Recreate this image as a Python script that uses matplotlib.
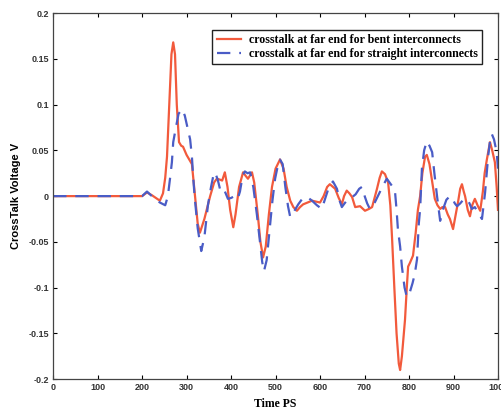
import matplotlib
matplotlib.use("Agg")
import matplotlib.pyplot as plt

# far-end crosstalk, bent interconnects
bent_t = [0, 200, 211, 222, 240, 247, 252, 256, 262, 266, 270, 274, 278, 283, 288, 292,
          300, 312, 319, 325, 330, 340, 353, 362, 368, 375, 380, 386, 392, 398, 405, 410,
          418, 427, 433, 438, 447, 452, 460, 466, 472, 478, 485, 492, 500, 510, 518, 525,
          533, 540, 548, 555, 562, 572, 582, 600, 608, 616, 622, 634, 642, 649, 654, 660,
          666, 672, 679, 690, 701, 710, 717, 722, 728, 734, 739, 746, 753, 758, 762, 767,
          772, 777, 780, 784, 791, 795, 798, 802, 809, 815, 820, 825, 830, 836, 840, 846,
          852, 858, 864, 870, 875, 881, 887, 892, 899, 905, 910, 915, 919, 923, 926, 932,
          937, 942, 948, 954, 960, 966, 970, 975, 982, 987, 993, 997, 1000]
bent_v = [0, 0, 0.004, 0.001, -0.005, 0.003, 0.02, 0.043, 0.11, 0.155, 0.168, 0.155, 0.1,
          0.059, 0.055, 0.054, 0.045, 0.035, 0.0, -0.03, -0.04, -0.025, 0.0, 0.015, 0.019,
          0.018, 0.017, 0.026, 0.01, -0.015, -0.034, -0.02, 0.01, 0.026, 0.022, 0.019, 0.026,
          0.015, -0.02, -0.05, -0.067, -0.055, -0.02, 0.01, 0.03, 0.04, 0.03, 0.01, -0.005,
          -0.012, -0.016, -0.012, -0.009, -0.007, -0.005, -0.007, 0.0, 0.01, 0.013, 0.008,
          -0.002, -0.009, 0.0, 0.006, 0.003, -0.001, -0.012, -0.011, -0.016, -0.014, -0.012,
          -0.003, 0.008, 0.02, 0.027, 0.024, 0.015, -0.01, -0.047, -0.1, -0.15, -0.183, -0.19,
          -0.175, -0.135, -0.1, -0.077, -0.073, -0.065, -0.04, -0.015, 0.0, 0.025, 0.043,
          0.045, 0.035, 0.016, -0.003, -0.01, -0.014, -0.012, -0.012, -0.02, -0.025, -0.036,
          -0.02, -0.007, 0.008, 0.013, 0.005, 0.0, -0.015, -0.022, -0.01, -0.003, -0.01,
          -0.016, 0.005, 0.025, 0.04, 0.059, 0.05, 0.037, 0.01, -0.015]

# far-end crosstalk, straight interconnects
straight_t = [0, 200, 211, 222, 240, 252, 258, 263, 267, 270, 276, 282, 290, 296, 302, 308,
              312, 315, 318, 325, 333, 340, 348, 355, 360, 364, 370, 375, 382, 393, 400, 408,
              415, 420, 426, 431, 437, 443, 450, 458, 465, 470, 474, 480, 487, 493, 499, 505,
              510, 516, 522, 528, 533, 540, 551, 560, 571, 582, 593, 604, 612, 620, 629, 638,
              644, 649, 655, 660, 670, 680, 688, 694, 701, 706, 712, 720, 730, 740, 750, 756,
              762, 768, 772, 775, 780, 784, 790, 795, 800, 808, 813, 818, 822, 825, 829, 834,
              840, 846, 852, 857, 863, 870, 876, 884, 892, 898, 903, 908, 915, 922, 930, 936,
              941, 948, 955, 964, 971, 978, 982, 986, 991, 997, 1000]
straight_v = [0, 0, 0.005, 0.0, -0.007, -0.01, 0.0, 0.02, 0.037, 0.059, 0.075, 0.09, 0.095,
              0.088, 0.075, 0.062, 0.043, 0.02, 0.0, -0.035, -0.06, -0.045, -0.01, 0.01, 0.022,
              0.026, 0.018, 0.008, 0.01, -0.003, -0.002, 0.0, -0.003, 0.005, 0.022, 0.027, 0.025,
              0.026, 0.01, -0.02, -0.05, -0.072, -0.082, -0.07, -0.035, -0.005, 0.019, 0.033,
              0.04, 0.035, 0.01, -0.011, -0.023, -0.018, -0.009, -0.003, -0.001, -0.005, -0.01,
              -0.014, -0.002, 0.01, 0.016, 0.008, -0.005, -0.012, -0.008, -0.005, -0.002, 0.002,
              0.008, 0.01, -0.001, -0.008, -0.014, -0.01, 0.0, 0.01, 0.019, 0.015, 0.011, 0.008,
              -0.015, -0.036, -0.055, -0.077, -0.1, -0.11, -0.108, -0.095, -0.085, -0.069, -0.03,
              -0.014, 0.03, 0.05, 0.06, 0.055, 0.048, 0.025, 0.0, -0.027, -0.015, -0.004, 0.0,
              -0.003, -0.008, -0.011, -0.008, -0.004, -0.003, -0.008, -0.014, -0.012, -0.018,
              -0.025, 0.004, 0.044, 0.06, 0.068, 0.062, 0.048, 0.03]

x_ticks = [0, 100, 200, 300, 400, 500, 600, 700, 800, 900, 1000]
y_ticks = [-0.2, -0.15, -0.1, -0.05, 0, 0.05, 0.1, 0.15, 0.2]
y_tick_labels = ["-0.2", "-0.15", "-0.1", "-0.05", "0", "0.05", "0.1", "0.15", "0.2"]

RED = "#f25a3c"
BLUE = "#4a5cc6"

fig = plt.figure(figsize=(5.01, 4.09), dpi=100)
ax = fig.add_axes([0.106, 0.073, 0.888, 0.895])

ax.plot(bent_t, bent_v, color=RED, linewidth=1.6,
        label="crosstalk at far end for bent interconnects")
ax.plot(straight_t, straight_v, color=BLUE, linewidth=1.6, linestyle=(0, (6, 4)),
        label="crosstalk at far end for straight interconnects")

ax.set_xlim(0, 1000)
ax.set_ylim(-0.2, 0.2)
ax.set_xticks(x_ticks)
ax.set_yticks(y_ticks)
ax.set_yticklabels(y_tick_labels)
ax.tick_params(direction="in", top=True, right=True, length=3, width=0.8,
               labelsize=6.5, pad=3)
for lab in ax.get_xticklabels() + ax.get_yticklabels():
    lab.set_fontfamily("Liberation Sans")
    lab.set_fontweight("bold")
    lab.set_color("#333333")
for sp in ax.spines.values():
    sp.set_linewidth(0.9)
    sp.set_color("#444444")

ax.set_xlabel("Time PS", fontfamily="Liberation Serif", fontweight="bold",
              fontsize=8.5, labelpad=4)
ax.set_ylabel("CrossTalk Voltage V", fontfamily="Liberation Sans", fontweight="bold",
              fontsize=8, labelpad=5)

leg = ax.legend(loc="upper right", bbox_to_anchor=(0.964, 0.954), borderaxespad=0,
                prop={"family": "Liberation Serif", "weight": "bold", "size": 8.6},
                handlelength=2.0, handletextpad=0.7, borderpad=0.35, labelspacing=0.15,
                fancybox=False, framealpha=1)
leg.get_frame().set_edgecolor("#222222")
leg.get_frame().set_linewidth(1.0)

fig.savefig("out.png", dpi=100)
